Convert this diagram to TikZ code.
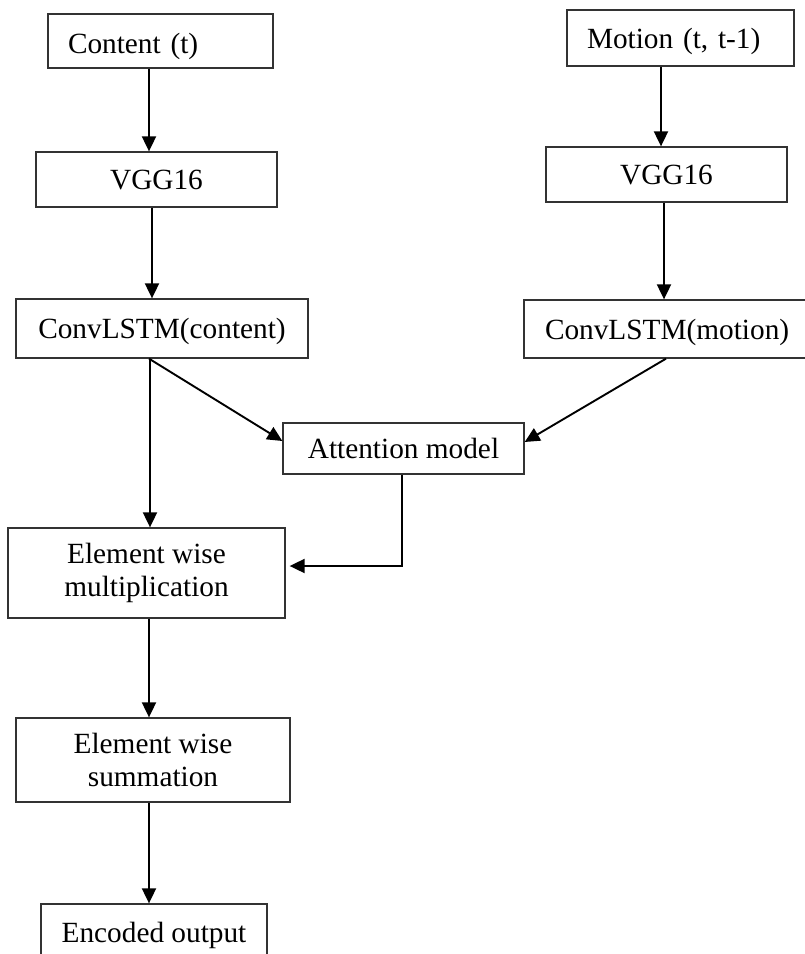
\documentclass[tikz,border=0pt]{standalone}
\usepackage{fontspec}
\setmainfont{Liberation Serif}
\usetikzlibrary{arrows.meta}
\begin{document}
\begin{tikzpicture}[x=1pt,y=-1pt,
  box/.style={draw=black!80, line width=1.3pt, inner sep=0pt, align=center,
    font=\fontsize{29.3}{33}\selectfont},
  onebox/.style={box, text height=20pt, text depth=0pt},
  leftbox/.style={onebox, align=left, inner xsep=#1},
  flow/.style={draw=black, line width=1.9pt, -{Triangle[length=15pt,width=14pt]}}]
\useasboundingbox (0,0) rectangle (805,954);
\clip (0,0) rectangle (805,954);

% input streams
\node[leftbox=20pt, text width=185pt, minimum height=54pt, text height=24pt] (content) at (160.5,41) {Content (t)};
\node[leftbox=20pt, text width=187pt, minimum height=56pt] (motion) at (680.5,38) {Motion (t, t-1)};

% feature extractors
\node[onebox, minimum width=241pt, minimum height=55pt] (vggc) at (156.5,179.5) {VGG16};
\node[onebox, minimum width=241pt, minimum height=55pt] (vggm) at (666.5,174.5) {VGG16};

% recurrent layers
\node[onebox, minimum width=292pt, minimum height=59pt] (clc) at (162,328.5) {ConvLSTM(content)};
\node[leftbox=21pt, text width=249pt, minimum height=58pt] (clm) at (669.5,329) {ConvLSTM(motion)};

% attention and fusion
\node[onebox, minimum width=241pt, minimum height=51pt] (att) at (403.5,448.5) {Attention model};
\node[box, minimum width=277pt, minimum height=90pt] (mul) at (146.5,573) {Element wise\\multiplication};
\node[box, minimum width=274pt, minimum height=84pt] (sum) at (153,760) {Element wise\\summation};
\node[onebox, minimum width=226pt, minimum height=56pt] (enc) at (154,932) {Encoded output};

% connectors
\draw[flow] ([xshift=-11.5pt]content.south) -- ([xshift=-11.5pt]content.south |- vggc.north);
\draw[flow] ([xshift=-4.5pt]vggc.south) -- ([xshift=-4.5pt]vggc.south |- clc.north);
\draw[flow] ([xshift=-19.5pt]motion.south) -- ([xshift=-19.5pt]motion.south |- vggm.north);
\draw[flow] ([xshift=-2.5pt]vggm.south) -- ([xshift=-2.5pt]vggm.south |- clm.north);
\draw[flow] ([xshift=-12pt]clc.south) -- ([xshift=-12pt]clc.south |- mul.north);
\draw[flow] ([xshift=-13pt]clc.south) -- ([yshift=7.5pt]att.west);
\draw[flow] ([xshift=-3.5pt]clm.south) -- ([yshift=6.5pt]att.east);
\draw[flow] ([xshift=-1.5pt]att.south) |- ([xshift=4pt,yshift=7pt]mul.east);
\draw[flow] ([xshift=2.5pt]mul.south) -- ([xshift=2.5pt]mul.south |- sum.north);
\draw[flow] ([xshift=-4pt]sum.south) -- ([xshift=-4pt]sum.south |- enc.north);
\end{tikzpicture}
\end{document}
